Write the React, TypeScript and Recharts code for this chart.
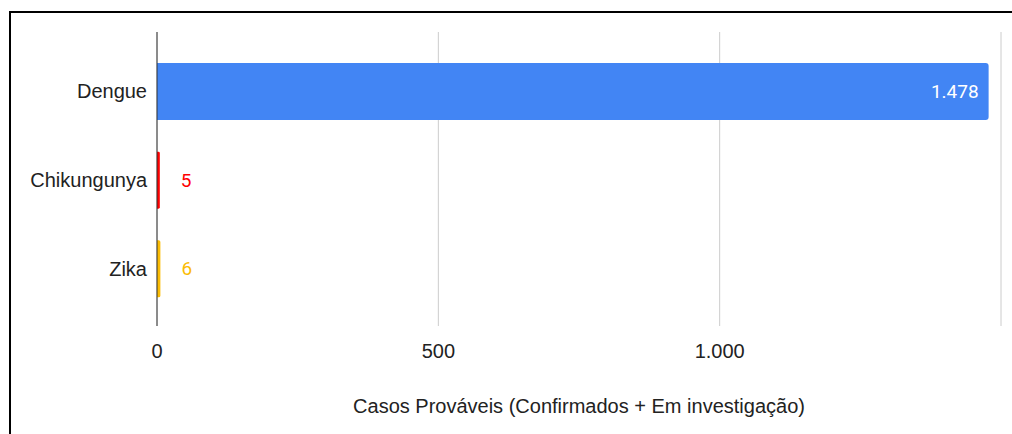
import { BarChart, Bar, XAxis, YAxis, CartesianGrid, Cell, LabelList } from 'recharts'

const categories = ['Dengue', 'Chikungunya', 'Zika']
const casos = [1478, 5, 6]
const barColors = ['#4285f4', '#ff0000', '#fbbc04']
const labelColors = ['#ffffff', '#ff0000', '#fbbc04']
const xTicks = [0, 500, 1000, 1500]
const xTitle = 'Casos Prováveis (Confirmados + Em investigação)'

const data = categories.map((name, i) => ({ name, casos: casos[i] }))

const fmt = (v: number) => String(v).replace(/\B(?=(\d{3})+(?!\d))/g, '.')

const font = "'Liberation Sans', Arial, sans-serif"

const renderLabel = (props: any) => {
  const { x, y, width, height, value, index } = props
  const inside = index === 0
  const tx = inside ? x + width - 10 : x + width + 21
  return (
    <text
      x={tx}
      y={y + height / 2}
      dy="0.35em"
      textAnchor={inside ? 'end' : 'start'}
      fill={labelColors[index]}
      fontFamily="Roboto, sans-serif"
      fontSize={19}
    >
      {fmt(value)}
    </text>
  )
}

export default function App() {
  return (
    <div style={{ position: 'fixed', left: 0, top: 0, width: 1012, height: 434, overflow: 'hidden', background: '#fff' }}>
      <div
        style={{
          position: 'absolute',
          left: 9,
          top: 11,
          width: 1100,
          height: 500,
          border: '2px solid #000',
        }}
      />
      <div style={{ position: 'absolute', left: 0, top: 0 }}>
        <BarChart
          width={1012}
          height={434}
          data={data}
          layout="vertical"
          margin={{ top: 32, right: 11, bottom: 0, left: 0 }}
        >
          <CartesianGrid horizontal={false} stroke="#cccccc" />
          <XAxis
            type="number"
            domain={[0, 1500]}
            ticks={xTicks}
            tickFormatter={(v: number) => (v === 1500 ? '' : fmt(v))}
            axisLine={false}
            tickLine={false}
            tickSize={0}
            tickMargin={18}
            height={108}
            tick={{ fill: '#222', fontSize: 20, fontFamily: font }}
            label={{
              value: xTitle,
              position: 'insideBottom',
              offset: 21,
              fill: '#222',
              fontSize: 20,
              fontFamily: font,
            }}
          />
          <YAxis
            type="category"
            dataKey="name"
            width={157}
            padding={{ top: 15, bottom: 13 }}
            axisLine={{ stroke: '#333333' }}
            tickLine={false}
            tickSize={0}
            tickMargin={10}
            tick={{ fill: '#222', fontSize: 20, fontFamily: font }}
          />
          <Bar dataKey="casos" isAnimationActive={false} barSize={57} radius={[0, 3, 3, 0]}>
            {data.map((d, i) => (
              <Cell key={d.name} fill={barColors[i]} />
            ))}
            <LabelList dataKey="casos" content={renderLabel} />
          </Bar>
        </BarChart>
      </div>
    </div>
  )
}
